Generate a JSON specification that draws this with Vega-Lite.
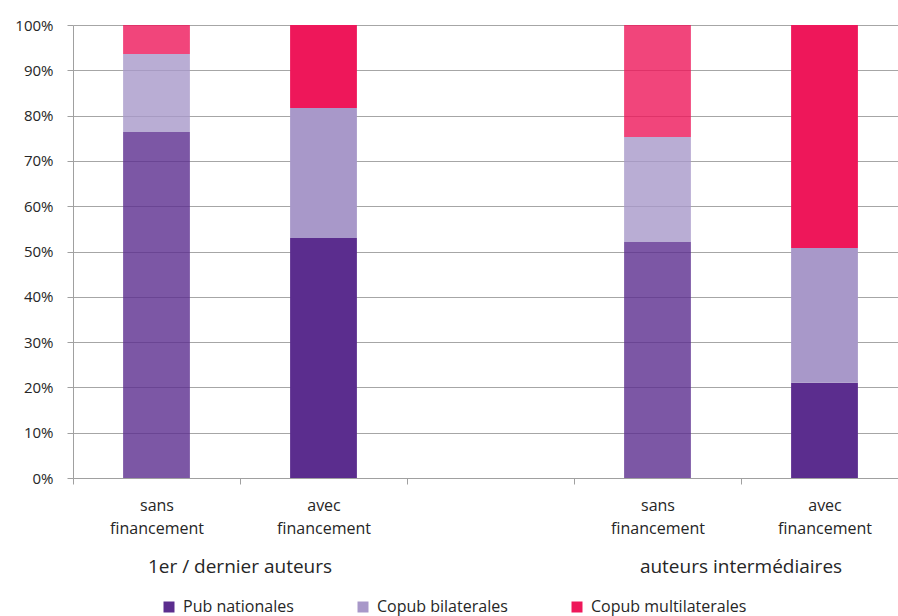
{
  "$schema": "https://vega.github.io/schema/vega-lite/v6.json",
  "autosize": "none",
  "padding": {"left": 73, "top": 25, "right": 0, "bottom": 138},
  "width": 835,
  "height": 453,
  "background": "white",
  "config": {
    "view": {"stroke": null},
    "font": "Open Sans",
    "axis": {"labelFont": "Open Sans", "labelColor": "#262626", "domainColor": "#a0a0a0", "tickColor": "#a0a0a0", "gridColor": "#a6a6a6"},
    "legend": {"labelFont": "Open Sans"}
  },
  "datasets": {
    "bars": [
      {"cat": "s1", "serie": "Pub nationales", "ord": 1, "fin": "sans", "pct": 76.4},
      {"cat": "s1", "serie": "Copub bilaterales", "ord": 2, "fin": "sans", "pct": 17.2},
      {"cat": "s1", "serie": "Copub multilaterales", "ord": 3, "fin": "sans", "pct": 6.4},
      {"cat": "a1", "serie": "Pub nationales", "ord": 1, "fin": "avec", "pct": 53.0},
      {"cat": "a1", "serie": "Copub bilaterales", "ord": 2, "fin": "avec", "pct": 28.7},
      {"cat": "a1", "serie": "Copub multilaterales", "ord": 3, "fin": "avec", "pct": 18.3},
      {"cat": "s2", "serie": "Pub nationales", "ord": 1, "fin": "sans", "pct": 52.1},
      {"cat": "s2", "serie": "Copub bilaterales", "ord": 2, "fin": "sans", "pct": 23.2},
      {"cat": "s2", "serie": "Copub multilaterales", "ord": 3, "fin": "sans", "pct": 24.7},
      {"cat": "a2", "serie": "Pub nationales", "ord": 1, "fin": "avec", "pct": 21.0},
      {"cat": "a2", "serie": "Copub bilaterales", "ord": 2, "fin": "avec", "pct": 29.8},
      {"cat": "a2", "serie": "Copub multilaterales", "ord": 3, "fin": "avec", "pct": 49.2}
    ],
    "groups": [
      {"cat": "a1", "label": "1er / dernier auteurs"},
      {"cat": "a2", "label": "auteurs intermédiaires"}
    ]
  },
  "layer": [
    {
      "data": {"name": "bars"},
      "mark": {"type": "bar", "width": {"band": 0.4}},
      "encoding": {
        "x": {
          "field": "cat", "type": "nominal",
          "scale": {"domain": ["s1", "a1", "gap", "s2", "a2"], "paddingInner": 0, "paddingOuter": 0},
          "axis": {
            "title": null, "labelAngle": 0, "tickBand": "extent", "tickSize": 6,
            "labelFontSize": 16, "labelLineHeight": 23, "labelPadding": 13, "labelBaseline": "top",
            "labelExpr": "(datum.label == 's1' || datum.label == 's2') ? ['sans', 'financement'] : ((datum.label == 'a1' || datum.label == 'a2') ? ['avec', 'financement'] : '')"
          }
        },
        "y": {
          "field": "pct", "type": "quantitative", "stack": "zero",
          "scale": {"domain": [0, 100], "nice": false},
          "axis": {
            "title": null, "values": [0, 10, 20, 30, 40, 50, 60, 70, 80, 90, 100],
            "labelExpr": "datum.value + '%'", "labelFontSize": 15, "labelPadding": 14,
            "tickSize": 6, "grid": true, "domain": true
          }
        },
        "color": {
          "field": "serie", "type": "nominal",
          "scale": {"domain": ["Pub nationales", "Copub bilaterales", "Copub multilaterales"], "range": ["#5b2d8e", "#a898c9", "#ee175a"]},
          "legend": {
            "title": null, "orient": "none", "direction": "horizontal", "legendX": 88, "legendY": 574,
            "symbolType": "square", "symbolSize": 121, "symbolStrokeWidth": 0, "labelFontSize": 16,
            "labelColor": "#262626", "labelOffset": 6, "columnPadding": 61
          }
        },
        "opacity": {
          "field": "fin", "type": "nominal",
          "scale": {"domain": ["sans", "avec"], "range": [0.8, 1]},
          "legend": null
        },
        "order": {"field": "ord", "type": "quantitative"}
      }
    },
    {
      "data": {"name": "groups"},
      "mark": {"type": "text", "fontSize": 19, "font": "Open Sans", "color": "#262626", "baseline": "middle", "align": "center", "dy": 89},
      "encoding": {
        "x": {"field": "cat", "type": "nominal", "bandPosition": 0},
        "y": {"datum": 0, "type": "quantitative"},
        "text": {"field": "label"}
      }
    }
  ]
}
